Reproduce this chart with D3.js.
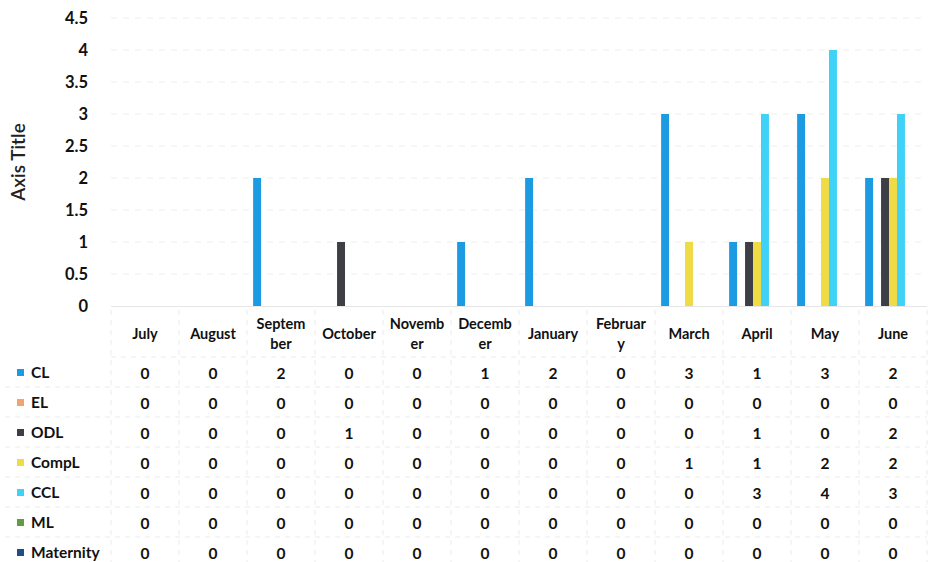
<!DOCTYPE html>
<html><head><meta charset="utf-8">
<script src="https://cdn.jsdelivr.net/npm/d3@7"></script>
<style>
body{margin:0;background:#fff;}
text{font-family:Lato,"Open Sans",sans-serif;}
</style></head>
<body><svg id="c" width="928" height="562"></svg>
<script>
const months = ["July","August","September","October","November","December","January","February","March","April","May","June"];
const monthLines = [["July"],["August"],["Septem","ber"],["October"],["Novemb","er"],["Decemb","er"],["January"],["Februar","y"],["March"],["April"],["May"],["June"]];
const seriesNames = ["CL","EL","ODL","CompL","CCL","ML","Maternity"];
const CL        = [0,0,2,0,0,1,2,0,3,1,3,2];
const EL        = [0,0,0,0,0,0,0,0,0,0,0,0];
const ODL       = [0,0,0,1,0,0,0,0,0,1,0,2];
const CompL     = [0,0,0,0,0,0,0,0,1,1,2,2];
const CCL       = [0,0,0,0,0,0,0,0,0,3,4,3];
const ML        = [0,0,0,0,0,0,0,0,0,0,0,0];
const Maternity = [0,0,0,0,0,0,0,0,0,0,0,0];
const yTicks = [0,0.5,1,1.5,2,2.5,3,3.5,4,4.5];
const colors = ["#1c9be3","#f0a46e","#3e3e46","#eedb45","#3fd2f6","#5f9e3c","#1f4d8a"];

const seriesValues = [CL,EL,ODL,CompL,CCL,ML,Maternity];
const svg = d3.select("#c");

const x0 = d3.scaleBand().domain(months).range([111,927]).padding(0);
const bw = x0.bandwidth();
const x1 = d3.scaleBand().domain(seriesNames).range([bw*0.09, bw*0.91]).padding(0);
const y = d3.scaleLinear().domain([0,4.5]).range([306,18]);

// gridlines
svg.append("g").selectAll("line").data(yTicks.filter(d=>d>0)).join("line")
  .attr("x1",111).attr("x2",927).attr("y1",d=>y(d)).attr("y2",d=>y(d))
  .attr("stroke","#efefef").attr("stroke-width",1).attr("stroke-dasharray","6,6");

// y axis
const yAxis = d3.axisLeft(y).tickValues(yTicks).tickSize(0).tickPadding(0).tickFormat(d3.format("~g"));
const ya = svg.append("g").attr("transform","translate(88,0)").call(yAxis);
ya.select(".domain").remove();
ya.selectAll("text").attr("font-size",16.5).attr("font-weight",700).attr("fill","#111")
  .attr("font-family","Lato,sans-serif");

// axis title
svg.append("text").attr("transform","translate(25,162) rotate(-90)")
  .attr("text-anchor","middle").attr("font-size",19).attr("font-weight",600).attr("fill","#222")
  .text("Axis Title");

// bars
const groups = svg.append("g").selectAll("g").data(months).join("g")
  .attr("transform",d=>`translate(${x0(d)},0)`);
groups.selectAll("rect").data((m,i)=>seriesNames.map((s,k)=>({s,k,v:seriesValues[k][i]})).filter(d=>d.v>0))
  .join("rect")
  .attr("x",d=>x1(d.s)).attr("width",x1.bandwidth())
  .attr("y",d=>y(d.v)).attr("height",d=>y(0)-y(d.v))
  .attr("fill",d=>colors[d.k]);

// baseline
svg.append("line").attr("x1",111).attr("x2",927).attr("y1",y(0)+0.5).attr("y2",y(0)+0.5)
  .attr("stroke","#e6e6e6");

// data table
const headerTop = 310, headerBottom = 357, rowH = 30;
const tbl = svg.append("g");
tbl.selectAll("line.v").data(d3.range(months.length+1)).join("line").attr("class","v")
  .attr("x1",(d,i)=>111+i*bw).attr("x2",(d,i)=>111+i*bw)
  .attr("y1",headerTop).attr("y2",headerBottom+rowH*7)
  .attr("stroke","#ebebeb").attr("stroke-dasharray","5,5");
tbl.selectAll("line.h").data(d3.range(8)).join("line").attr("class","h")
  .attr("x1",d=>d===0?111:5).attr("x2",927)
  .attr("y1",d=>headerBottom+d*rowH).attr("y2",d=>headerBottom+d*rowH)
  .attr("stroke","#ebebeb").attr("stroke-dasharray","5,5");

// headers
const hdr = tbl.selectAll("text.hdr").data(months).join("text").attr("class","hdr")
  .attr("text-anchor","middle").attr("font-size",14.5).attr("font-weight",700).attr("fill","#111")
  .attr("x",d=>x0(d)+bw/2);
hdr.each(function(d,i){
  const lines = monthLines[i];
  const t = d3.select(this);
  const startY = lines.length===1 ? 339 : 329;
  lines.forEach((l,j)=>t.append("tspan").attr("x",x0(d)+bw/2).attr("y",startY+j*20).text(l));
});

// rows
seriesNames.forEach((s,k)=>{
  const cy = headerBottom + k*rowH + rowH/2 + 1;
  tbl.append("rect").attr("x",17).attr("y",cy-4).attr("width",7).attr("height",7).attr("fill",colors[k]);
  tbl.append("text").attr("x",31).attr("y",cy+5).attr("font-size",15.5).attr("font-weight",700).attr("fill","#111").text(s);
  tbl.selectAll(null).data(seriesValues[k]).join("text")
    .attr("x",(d,i)=>x0(months[i])+bw/2).attr("y",cy+6)
    .attr("text-anchor","middle").attr("font-size",15.5).attr("font-weight",700).attr("fill","#111")
    .text(d=>d);
});
</script></body></html>
